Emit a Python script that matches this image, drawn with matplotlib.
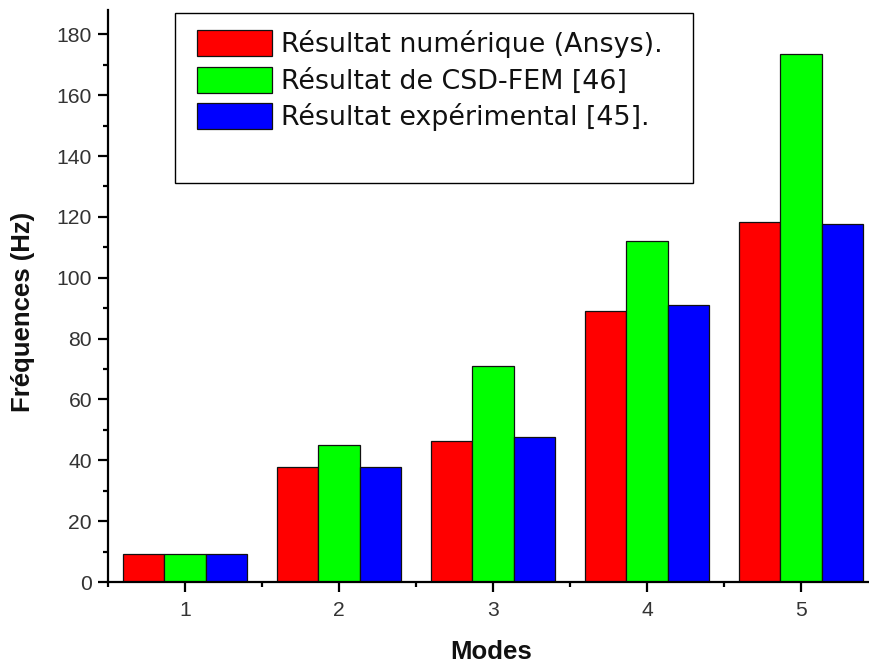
import matplotlib
matplotlib.use("Agg")
import matplotlib.pyplot as plt
from matplotlib.patches import Rectangle
from matplotlib.ticker import MultipleLocator, FixedLocator
import numpy as np

plt.rcParams['font.family'] = ['Liberation Sans', 'DejaVu Sans']

modes = [1, 2, 3, 4, 5]
ansys = [9.2, 37.8, 46.3, 89.1, 118.2]
csd_fem = [9.2, 45.0, 71.0, 112.2, 173.7]
experimental = [9.2, 37.8, 47.7, 90.9, 117.8]

series_labels = ["Résultat numérique (Ansys).",
                 "Résultat de CSD-FEM [46]",
                 "Résultat expérimental [45]."]
series_colors = ["#ff0000", "#00ff00", "#0000ff"]

W, H = 869, 666
fig = plt.figure(figsize=(W / 100, H / 100), dpi=100)
ax = fig.add_axes([108 / W, 84 / H, 1 - 108 / W, (582 - 10) / H])

x = np.array(modes, dtype=float)
bw = 0.8 / 3
handles = []
for i, (vals, col, lab) in enumerate(zip([ansys, csd_fem, experimental],
                                          series_colors, series_labels)):
    b = ax.bar(x + (i - 1) * bw, vals, width=bw, color=col,
               edgecolor="#111111", linewidth=0.9, label=lab, zorder=2)
    handles.append(b)

ax.set_xlim(0.5, 0.5 + (W - 108) / 154)
ax.set_ylim(0, 188)

for s in ("top", "right"):
    ax.spines[s].set_visible(False)
for s in ("left", "bottom"):
    ax.spines[s].set_linewidth(1.6)
    ax.spines[s].set_color("black")

ax.yaxis.set_major_locator(MultipleLocator(20))
ax.yaxis.set_minor_locator(MultipleLocator(10))
ax.xaxis.set_major_locator(FixedLocator(modes))
ax.xaxis.set_minor_locator(FixedLocator([0.5, 1.5, 2.5, 3.5, 4.5]))
ax.tick_params(which="major", direction="out", length=7.5, width=1.6,
               labelsize=15.2, labelcolor="#333333", pad=4)
ax.tick_params(which="minor", direction="out", length=3.8, width=1.6)
ax.tick_params(axis="x", which="major", pad=6)

fig.text(23 / W, 1 - 312 / H, "Fréquences (Hz)", rotation=90,
         ha="center", va="center", fontsize=18.5, fontweight="bold",
         color="#111111")
fig.text(491 / W, 1 - 652 / H, "Modes", ha="center", va="center",
         fontsize=18.5, fontweight="bold", color="#111111")

# legend frame, taller than its entries
fig.patches.append(Rectangle((175 / W, 1 - 183 / H), (693 - 175) / W,
                             (183 - 13) / H, transform=fig.transFigure,
                             facecolor="white", edgecolor="black",
                             linewidth=1.0, zorder=3))

fs = 19.4
em = fs * 100 / 72
leg = fig.legend(handles=handles, labels=series_labels,
                 loc="upper left", bbox_to_anchor=(197 / W, 1 - 30 / H),
                 bbox_transform=fig.transFigure, frameon=False,
                 prop={"family": "DejaVu Sans", "size": fs},
                 handlelength=75 / em, handleheight=1.108,
                 handletextpad=9 / em, labelspacing=8.5 / em,
                 borderpad=0, borderaxespad=0)
leg.set_zorder(4)
for t in leg.get_texts():
    t.set_color("#111111")

fig.savefig("out.png", dpi=100)
